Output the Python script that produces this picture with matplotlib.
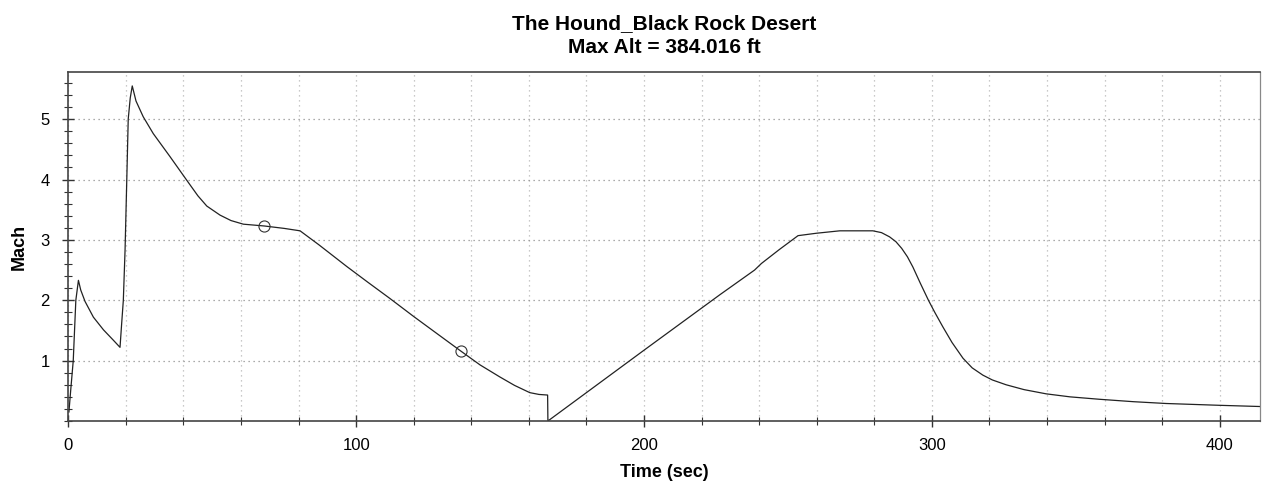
import numpy as np
import matplotlib.pyplot as plt
from matplotlib.ticker import MultipleLocator, FixedLocator

plt.rcParams['font.family'] = ['Liberation Sans', 'DejaVu Sans']

# Vuelo: tiempo (s) y numero de Mach
tiempo = [0.2, 0.8, 1.7, 2.6, 3.5, 4.3, 5.8, 8.7, 12.2, 15.6, 17.95,
          18.5, 19.1, 19.7, 20.3, 20.8, 21.5, 22.2, 23.5, 26.0, 29.5,
          35.3, 41.1, 45.0, 48.1, 52.7, 56.5, 60.8, 68.1, 75.0, 80.5, 87.0,
          93.2, 96.7, 104.0, 111.7, 120.0, 128.0, 136.3, 143.0, 149.9,
          155.0, 160.3, 163.5, 166.5, 166.6, 200.2, 226.3, 238.4, 240.8,
          247.0, 253.5, 259.9, 268.0, 279.5, 282.5, 285.3, 287.5, 289.5,
          291.5, 293.4, 296.0, 298.8, 301.0, 303.8, 307.0, 310.8, 314.0,
          317.7, 321.0, 325.8, 332.0, 339.7, 348.0, 358.2, 370.0, 381.4,
          399.9, 414.0]
mach = [0.15, 0.5, 1.0, 2.0, 2.33, 2.17, 1.98, 1.72, 1.51, 1.34, 1.22,
        1.6, 2.0, 2.83, 4.0, 5.0, 5.35, 5.55, 5.3, 5.04, 4.76,
        4.38, 3.99, 3.73, 3.56, 3.41, 3.32, 3.26, 3.23, 3.19, 3.15, 2.92,
        2.69, 2.56, 2.3, 2.03, 1.73, 1.45, 1.16, 0.93, 0.73,
        0.59, 0.47, 0.44, 0.43, 0.0, 1.18, 2.09, 2.5, 2.61,
        2.84, 3.07, 3.11, 3.15, 3.15, 3.12, 3.05, 2.97, 2.86,
        2.72, 2.55, 2.28, 2.0, 1.8, 1.56, 1.3, 1.04, 0.88,
        0.76, 0.68, 0.6, 0.52, 0.45, 0.4, 0.36, 0.32, 0.29,
        0.26, 0.24]

# Eventos marcados con circulos
t_eventos = [68.1, 136.3]
m_eventos = [3.23, 1.16]

fig = plt.figure(figsize=(12.8, 4.9), dpi=100)
ax = fig.add_axes([0.0534, 0.1408, 0.9310, 0.7122])

ax.plot(tiempo, mach, color='#222222', linewidth=0.9)
ax.plot(t_eventos, m_eventos, linestyle='none', marker='o', markersize=8,
        markerfacecolor='none', markeredgecolor='#333333', markeredgewidth=0.8)

ax.set_xlim(0, 414)
ax.set_ylim(0, 5.78)

ax.xaxis.set_major_locator(MultipleLocator(100))
ax.xaxis.set_minor_locator(MultipleLocator(20))
ax.yaxis.set_major_locator(FixedLocator([1, 2, 3, 4, 5]))
ax.yaxis.set_minor_locator(MultipleLocator(0.2))

ax.tick_params(axis='both', which='major', direction='inout', length=9,
               width=1, color='#333333', labelsize=12)
ax.tick_params(axis='both', which='minor', direction='inout', length=6,
               width=0.8, color='#333333')
ax.tick_params(axis='x', which='major', pad=8)
ax.tick_params(axis='y', which='major', pad=9)

# Rejilla punteada
ax.grid(True, axis='x', which='both', linestyle=(0, (1, 3)),
        color='#b8b8b8', linewidth=0.9)
ax.grid(True, axis='y', which='major', linestyle=(0, (1, 3)),
        color='#909090', linewidth=0.9)
ax.set_axisbelow(True)

for lado in ['left', 'bottom', 'top']:
    ax.spines[lado].set_color('#444444')
    ax.spines[lado].set_linewidth(1.2)
ax.spines['right'].set_color('#888888')
ax.spines['right'].set_linewidth(0.9)

ax.set_xlabel('Time (sec)', fontsize=13, fontweight='bold', labelpad=8)
ax.set_ylabel('Mach', fontsize=13, fontweight='bold', labelpad=9)
ax.set_title('The Hound_Black Rock Desert\nMax Alt = 384.016 ft',
             fontsize=15, fontweight='bold', pad=14, linespacing=1.3)

fig.savefig('out.png', dpi=100)
